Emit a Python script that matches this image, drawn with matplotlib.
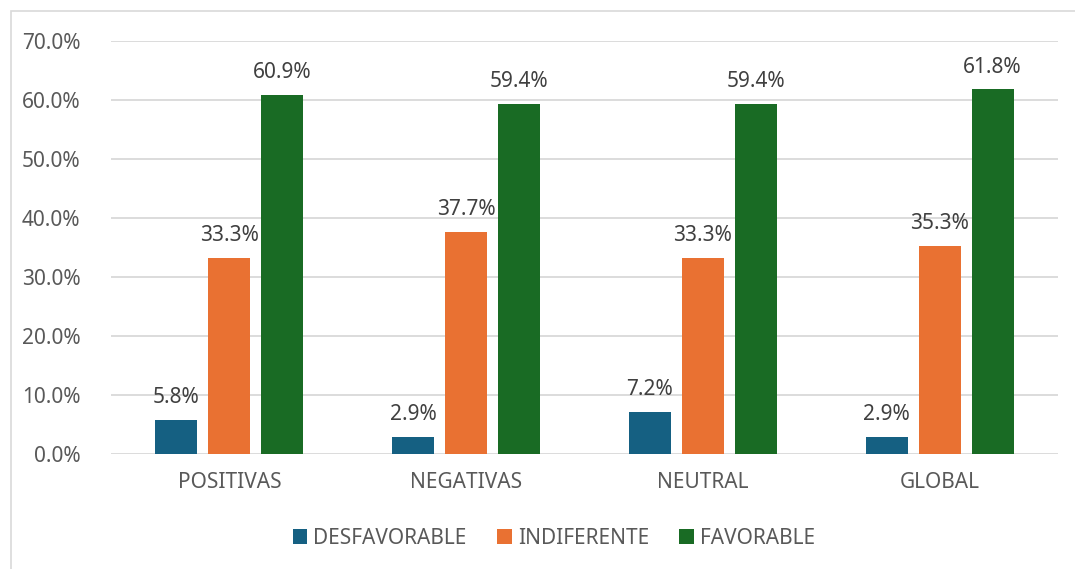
import matplotlib.pyplot as plt
import numpy as np
from matplotlib.patches import Rectangle

plt.rcParams['font.family'] = ['Noto Sans', 'DejaVu Sans']

categories = ['POSITIVAS', 'NEGATIVAS', 'NEUTRAL', 'GLOBAL']
series_names = ['DESFAVORABLE', 'INDIFERENTE', 'FAVORABLE']
desfavorable = [5.8, 2.9, 7.2, 2.9]
indiferente = [33.3, 37.7, 33.3, 35.3]
favorable = [60.9, 59.4, 59.4, 61.8]
colors = ['#156082', '#E97132', '#196B24']

fig = plt.figure(figsize=(10.75, 5.69), dpi=100)
# chart border (Excel-like)
fig.patches.append(Rectangle((11 / 1075, -0.1), 1.2, 1 - 11 / 569 + 0.1,
                             transform=fig.transFigure, fill=False,
                             edgecolor='#D9D9D9', linewidth=1.2))

ax = fig.add_axes([111 / 1075, 1 - 454 / 569, (1058 - 111) / 1075, (454 - 41) / 569])

x = np.arange(len(categories))
width = 0.177
step = 0.224
txt = '#595959'
for i, (vals, name) in enumerate(zip([desfavorable, indiferente, favorable], series_names)):
    pos = x + (i - 1) * step
    bars = ax.bar(pos, vals, width, color=colors[i], label=name, zorder=3)
    for b, v in zip(bars, vals):
        ax.annotate(f'{v:.1f}%', (b.get_x() + b.get_width() / 2, v),
                    xytext=(0, 12), textcoords='offset points',
                    ha='center', va='baseline', fontsize=15, color='#404040', zorder=4)

ax.set_xlim(-0.5, 3.5)
ax.set_ylim(0, 70)
ax.set_yticks(np.arange(0, 71, 10))
ax.set_yticklabels([f'{t:.1f}%' for t in np.arange(0, 71, 10)])
ax.set_xticks(x)
ax.set_xticklabels(categories)
ax.tick_params(axis='both', length=0, labelsize=15, colors=txt)
ax.tick_params(axis='y', pad=22)
ax.tick_params(axis='x', pad=13)
ax.grid(axis='y', color='#D9D9D9', linewidth=1.3, zorder=0)
for s in ax.spines.values():
    s.set_visible(False)

ax.legend(loc='center', bbox_to_anchor=(554 / 1075, 1 - 538 / 569),
          bbox_transform=fig.transFigure, ncol=3, frameon=False,
          fontsize=15, handlelength=0.7, handleheight=0.7,
          handletextpad=0.3, columnspacing=1.45, labelcolor=txt)

fig.savefig('out.png', dpi=100)
